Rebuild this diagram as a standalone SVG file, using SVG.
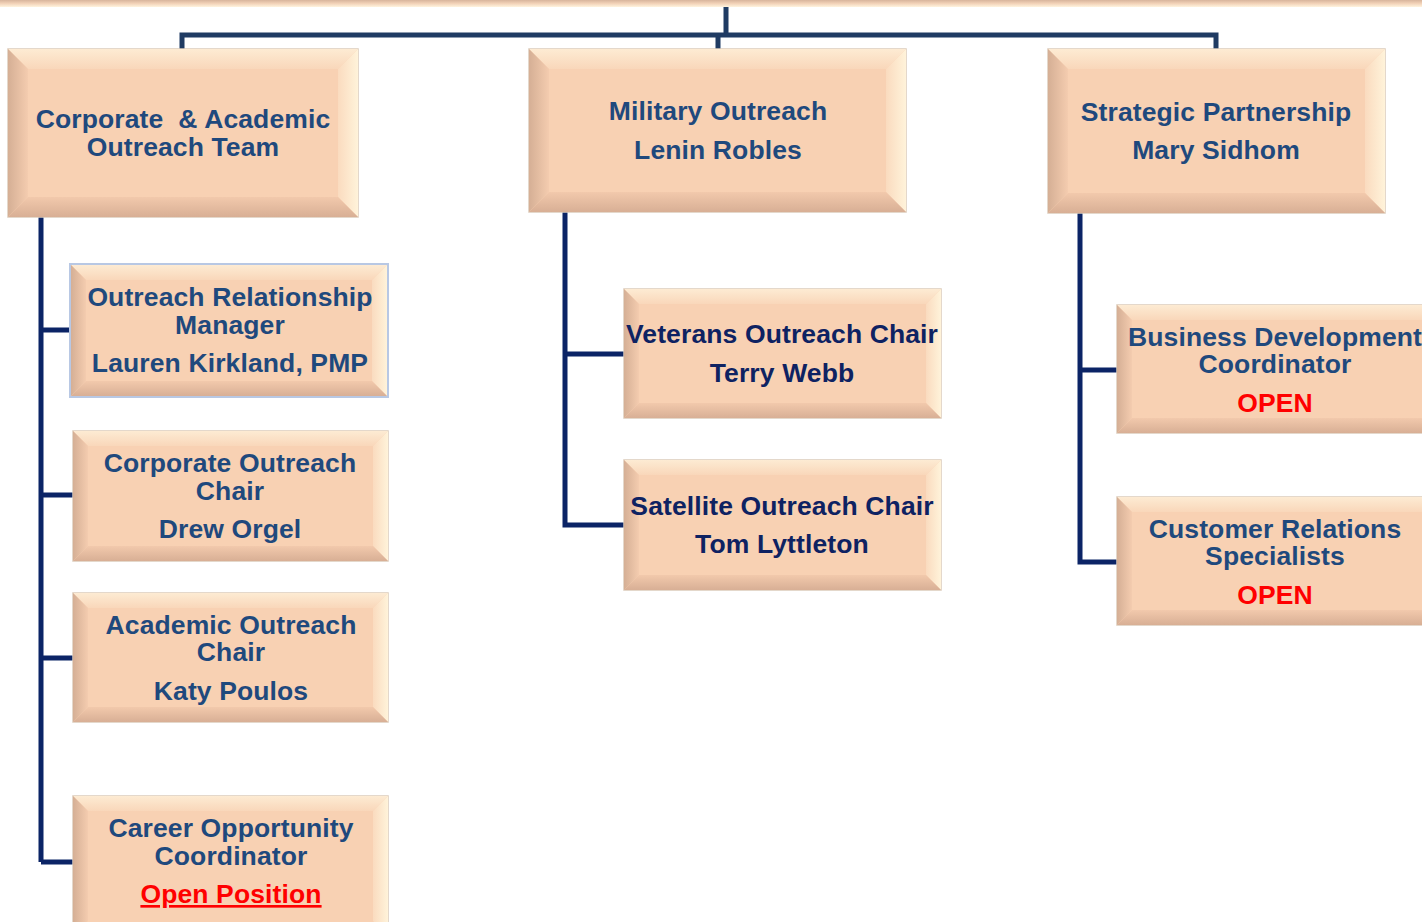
<svg xmlns="http://www.w3.org/2000/svg" width="1422" height="922" viewBox="0 0 1422 922">
<defs>
<linearGradient id="gTopBar" x1="0" y1="0" x2="0" y2="1"><stop offset="0" stop-color="#D8B49C"/><stop offset="0.5" stop-color="#F2D2B8"/><stop offset="1" stop-color="#FFF3DE"/></linearGradient>
<linearGradient id="gT" x1="0" y1="0" x2="0" y2="1"><stop offset="0" stop-color="#FDEBD3"/><stop offset="1" stop-color="#F9D7BA"/></linearGradient>
<linearGradient id="gL" x1="0" y1="0" x2="1" y2="0"><stop offset="0" stop-color="#D5AF95"/><stop offset="1" stop-color="#F4CCAF"/></linearGradient>
<linearGradient id="gR" x1="0" y1="0" x2="1" y2="0"><stop offset="0" stop-color="#FADBBF"/><stop offset="1" stop-color="#FFF3DA"/></linearGradient>
<linearGradient id="gB" x1="0" y1="0" x2="0" y2="1"><stop offset="0" stop-color="#F2C9AC"/><stop offset="1" stop-color="#D8AF95"/></linearGradient>
</defs>
<style>
.face{fill:#F8D1B3;stroke:#DCCBBB;stroke-width:1.5}
.blue{stroke:#B8C8E4;stroke-width:2}
.bt{fill:url(#gT)}
.bl{fill:url(#gL)}
.br{fill:url(#gR)}
.bb{fill:url(#gB)}
text{font-family:"Liberation Sans",Arial,sans-serif;font-weight:bold;font-size:26.5px;letter-spacing:0.12px;text-anchor:middle;fill:#1F497D}
text.dk{fill:#0E2262}
text.red{fill:#FF0000}
.pre{white-space:pre}
.c1{fill:none;stroke:#1F3B63;stroke-width:5}
.c2{fill:none;stroke:#0B2466;stroke-width:5}
</style>
<rect x="0" y="0" width="1422" height="7" fill="url(#gTopBar)"/>
<g id="connectors">
<path class="c1" d="M726 7 V35 M182 50 V35 H1216 V50 M718 35 V49"/>
<path class="c2" d="M41 217 V862 M41 330 H70 M41 495 H73 M41 658 H73 M41 862 H73"/>
<path class="c2" d="M565 212 V525 H624 M565 354 H624"/>
<path class="c2" d="M1080 213 V562 H1117 M1080 370 H1117"/>
</g>
<g id="corporate-academic">
<rect class="face" x="8" y="49" width="350" height="168"/>
<polygon class="bt" points="8,49 358,49 338,69 28,69"/>
<polygon class="bl" points="8,49 28,69 28,197 8,217"/>
<polygon class="br" points="358,49 358,217 338,197 338,69"/>
<polygon class="bb" points="8,217 28,197 338,197 358,217"/>
<text class="pre" x="183" y="128">Corporate  &amp; Academic</text>
<text x="183" y="156">Outreach Team</text>
</g>
<g id="military">
<rect class="face" x="529" y="49" width="377" height="163"/>
<polygon class="bt" points="529,49 906,49 886,69 549,69"/>
<polygon class="bl" points="529,49 549,69 549,192 529,212"/>
<polygon class="br" points="906,49 906,212 886,192 886,69"/>
<polygon class="bb" points="529,212 549,192 886,192 906,212"/>
<text x="718" y="120">Military Outreach</text>
<text x="718" y="159">Lenin Robles</text>
</g>
<g id="strategic">
<rect class="face" x="1048" y="49" width="337" height="164"/>
<polygon class="bt" points="1048,49 1385,49 1365,69 1068,69"/>
<polygon class="bl" points="1048,49 1068,69 1068,193 1048,213"/>
<polygon class="br" points="1385,49 1385,213 1365,193 1365,69"/>
<polygon class="bb" points="1048,213 1068,193 1365,193 1385,213"/>
<text x="1216" y="121">Strategic Partnership</text>
<text x="1216" y="159">Mary Sidhom</text>
</g>
<g id="orm">
<rect class="face blue" x="70" y="264" width="318" height="133"/>
<polygon class="bt" points="71,265 387,265 372,280 86,280"/>
<polygon class="bl" points="71,265 86,280 86,381 71,396"/>
<polygon class="br" points="387,265 387,396 372,381 372,280"/>
<polygon class="bb" points="71,396 86,381 372,381 387,396"/>
<text x="230" y="306">Outreach Relationship</text>
<text x="230" y="334">Manager</text>
<text x="230" y="372">Lauren Kirkland, PMP</text>
</g>
<g id="corporate-chair">
<rect class="face" x="73" y="431" width="315" height="130"/>
<polygon class="bt" points="73,431 388,431 373,446 88,446"/>
<polygon class="bl" points="73,431 88,446 88,546 73,561"/>
<polygon class="br" points="388,431 388,561 373,546 373,446"/>
<polygon class="bb" points="73,561 88,546 373,546 388,561"/>
<text x="230" y="472">Corporate Outreach</text>
<text x="230" y="500">Chair</text>
<text x="230" y="538">Drew Orgel</text>
</g>
<g id="academic-chair">
<rect class="face" x="73" y="593" width="315" height="129"/>
<polygon class="bt" points="73,593 388,593 373,608 88,608"/>
<polygon class="bl" points="73,593 88,608 88,707 73,722"/>
<polygon class="br" points="388,593 388,722 373,707 373,608"/>
<polygon class="bb" points="73,722 88,707 373,707 388,722"/>
<text x="231" y="634">Academic Outreach</text>
<text x="231" y="661">Chair</text>
<text x="231" y="700">Katy Poulos</text>
</g>
<g id="career">
<rect class="face" x="73" y="796" width="315" height="140"/>
<polygon class="bt" points="73,796 388,796 373,811 88,811"/>
<polygon class="bl" points="73,796 88,811 88,921 73,936"/>
<polygon class="br" points="388,796 388,936 373,921 373,811"/>
<text x="231" y="837">Career Opportunity</text>
<text x="231" y="865">Coordinator</text>
<text class="red" x="231" y="903" text-decoration="underline">Open Position</text>
</g>
<g id="veterans">
<rect class="face" x="624" y="289" width="317" height="129"/>
<polygon class="bt" points="624,289 941,289 926,304 639,304"/>
<polygon class="bl" points="624,289 639,304 639,403 624,418"/>
<polygon class="br" points="941,289 941,418 926,403 926,304"/>
<polygon class="bb" points="624,418 639,403 926,403 941,418"/>
<text class="dk" x="782" y="343">Veterans Outreach Chair</text>
<text class="dk" x="782" y="382">Terry Webb</text>
</g>
<g id="satellite">
<rect class="face" x="624" y="460" width="317" height="130"/>
<polygon class="bt" points="624,460 941,460 926,475 639,475"/>
<polygon class="bl" points="624,460 639,475 639,575 624,590"/>
<polygon class="br" points="941,460 941,590 926,575 926,475"/>
<polygon class="bb" points="624,590 639,575 926,575 941,590"/>
<text class="dk" x="782" y="515">Satellite Outreach Chair</text>
<text class="dk" x="782" y="553">Tom Lyttleton</text>
</g>
<g id="business-dev">
<rect class="face" x="1117" y="305" width="320" height="128"/>
<polygon class="bt" points="1117,305 1437,305 1422,320 1132,320"/>
<polygon class="bl" points="1117,305 1132,320 1132,418 1117,433"/>
<polygon class="br" points="1437,305 1437,433 1422,418 1422,320"/>
<polygon class="bb" points="1117,433 1132,418 1422,418 1437,433"/>
<text x="1275" y="346">Business Development</text>
<text x="1275" y="373">Coordinator</text>
<text class="red" x="1275" y="412">OPEN</text>
</g>
<g id="customer-relations">
<rect class="face" x="1117" y="497" width="320" height="128"/>
<polygon class="bt" points="1117,497 1437,497 1422,512 1132,512"/>
<polygon class="bl" points="1117,497 1132,512 1132,610 1117,625"/>
<polygon class="br" points="1437,497 1437,625 1422,610 1422,512"/>
<polygon class="bb" points="1117,625 1132,610 1422,610 1437,625"/>
<text x="1275" y="538">Customer Relations</text>
<text x="1275" y="565">Specialists</text>
<text class="red" x="1275" y="604">OPEN</text>
</g>
</svg>
